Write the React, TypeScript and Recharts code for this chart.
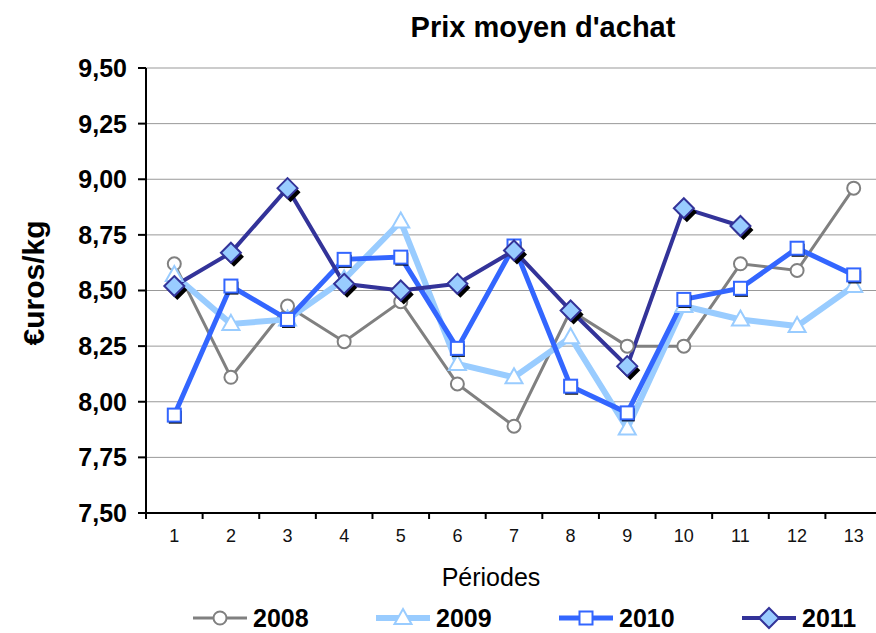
import { LineChart, Line, XAxis, YAxis, CartesianGrid, Legend } from 'recharts'

const periodes = ['1', '2', '3', '4', '5', '6', '7', '8', '9', '10', '11', '12', '13']
const prix2008 = [8.62, 8.11, 8.43, 8.27, 8.45, 8.08, 7.89, 8.41, 8.25, 8.25, 8.62, 8.59, 8.96]
const prix2009 = [8.57, 8.35, 8.37, 8.55, 8.81, 8.17, 8.11, 8.29, 7.88, 8.43, 8.37, 8.34, 8.52]
const prix2010 = [7.94, 8.52, 8.37, 8.64, 8.65, 8.24, 8.7, 8.07, 7.95, 8.46, 8.51, 8.69, 8.57]
const prix2011 = [8.52, 8.67, 8.96, 8.53, 8.5, 8.53, 8.68, 8.41, 8.16, 8.87, 8.79, null, null]
const yTicks = [7.5, 7.75, 8, 8.25, 8.5, 8.75, 9, 9.25, 9.5]

const data = periodes.map((p, i) => ({
  periode: p,
  a2008: prix2008[i],
  a2009: prix2009[i],
  a2010: prix2010[i],
  a2011: prix2011[i],
}))

const FONT = '"Liberation Sans", Arial, sans-serif'
const HALF_BAND = 28.3

const GRAY = '#808080'
const LIGHT = '#99ccff'
const BLUE = '#3366ff'
const NAVY = '#333399'

function circleMark(cx: number, cy: number) {
  return <circle cx={cx} cy={cy} r={6.5} fill="#fff" stroke={GRAY} strokeWidth={2} />
}
function triangleMark(cx: number, cy: number) {
  const p = `${cx},${cy - 9} ${cx + 8.5},${cy + 6} ${cx - 8.5},${cy + 6}`
  return <polygon points={p} fill="#fff" stroke={LIGHT} strokeWidth={2} />
}
function squareMark(cx: number, cy: number, shadow = true) {
  return (
    <g>
      {shadow && <rect x={cx - 5.5} y={cy - 4.5} width={13} height={13} fill="#000" />}
      <rect x={cx - 6.5} y={cy - 6.5} width={13} height={13} fill="#fff" stroke={BLUE} strokeWidth={2} />
    </g>
  )
}
function diamondMark(cx: number, cy: number, shadow = true) {
  const d = (x: number, y: number) => `${x},${y - 10} ${x + 10},${y} ${x},${y + 10} ${x - 10},${y}`
  return (
    <g>
      {shadow && <polygon points={d(cx + 3, cy + 4)} fill="#000" />}
      <polygon points={d(cx, cy)} fill={LIGHT} stroke={NAVY} strokeWidth={2} />
    </g>
  )
}

const series = [
  { key: 'a2008', name: '2008', color: GRAY, width: 3, mark: circleMark },
  { key: 'a2009', name: '2009', color: LIGHT, width: 6, mark: triangleMark },
  { key: 'a2010', name: '2010', color: BLUE, width: 5, mark: squareMark },
  { key: 'a2011', name: '2011', color: NAVY, width: 4, mark: diamondMark },
]

function makeDot(mark: (cx: number, cy: number) => any) {
  return (props: any) => {
    const { cx, cy, value, index } = props
    if (value == null || cx == null || cy == null) return <g key={index} />
    return <g key={index}>{mark(cx, cy)}</g>
  }
}

function XTick(props: any) {
  const { x, y, payload, index } = props
  const axisY = y - 10
  return (
    <g>
      <line x1={x - HALF_BAND} x2={x - HALF_BAND} y1={axisY} y2={axisY + 6} stroke="#000" strokeWidth={2} />
      {index === periodes.length - 1 && (
        <line x1={x + HALF_BAND} x2={x + HALF_BAND} y1={axisY} y2={axisY + 6} stroke="#000" strokeWidth={2} />
      )}
      <text x={x} y={y + 19} textAnchor="middle" fontSize={18} fill="#111" fontFamily={FONT}>
        {payload.value}
      </text>
    </g>
  )
}

function LegendBox() {
  return (
    <div
      style={{
        height: 30,
        width: 940,
        display: 'flex',
        alignItems: 'center',
        paddingLeft: 193,
        fontFamily: FONT,
        whiteSpace: 'nowrap',
      }}
    >
      {series.map((s) => (
        <div key={s.key} style={{ width: 183, flexShrink: 0, display: 'flex', alignItems: 'center' }}>
          <svg width={54} height={24} style={{ flexShrink: 0 }}>
            <line x1={0} x2={54} y1={12} y2={12} stroke={s.color} strokeWidth={s.width} />
            {s.key === 'a2010' ? squareMark(27, 12, false) : s.key === 'a2011' ? diamondMark(27, 12, false) : s.mark(27, 12)}
          </svg>
          <span style={{ marginLeft: 6, fontSize: 25, fontWeight: 'bold', color: '#000' }}>{s.name}</span>
        </div>
      ))}
    </div>
  )
}

export default function App() {
  return (
    <div
      style={{
        position: 'fixed',
        left: 0,
        top: 0,
        width: 876,
        height: 633,
        overflow: 'hidden',
        background: '#fff',
        fontFamily: FONT,
      }}
    >
      <div
        style={{
          position: 'absolute',
          left: 543,
          top: 13,
          transform: 'translateX(-50%)',
          whiteSpace: 'nowrap',
          fontSize: 29,
          fontWeight: 'bold',
          lineHeight: 1,
          color: '#000',
        }}
      >
        Prix moyen d'achat
      </div>
      <LineChart width={890} height={633} data={data} margin={{ top: 68, right: 8, left: 0, bottom: 0 }}>
        <CartesianGrid vertical={false} stroke="#999" strokeWidth={1} />
        <XAxis
          dataKey="periode"
          padding={{ left: HALF_BAND, right: HALF_BAND }}
          axisLine={{ stroke: '#000', strokeWidth: 2 }}
          tickLine={false}
          tickSize={6}
          tickMargin={4}
          tick={<XTick />}
          interval={0}
          height={90}
          label={{
            content: () => (
              <text x={491} y={586} textAnchor="middle" fontSize={25} fill="#000" fontFamily={FONT}>
                Périodes
              </text>
            ),
          }}
        />
        <YAxis
          domain={[7.5, 9.5]}
          ticks={yTicks}
          width={146}
          axisLine={{ stroke: '#000', strokeWidth: 2 }}
          tickLine={{ stroke: '#000', strokeWidth: 2 }}
          tickSize={8}
          tickMargin={11}
          tick={{ fontSize: 25, fontWeight: 'bold', fill: '#000', fontFamily: FONT }}
          tickFormatter={(v: number) => v.toFixed(2).replace('.', ',')}
          label={{
            content: () => (
              <text
                x={33}
                y={283}
                transform="rotate(-90 33 283)"
                textAnchor="middle"
                dominantBaseline="central"
                fontSize={30}
                fontWeight="bold"
                fill="#000"
                fontFamily={FONT}
              >
                €uros/kg
              </text>
            ),
          }}
        />
        <Legend verticalAlign="bottom" height={30} content={() => <LegendBox />} />
        {series.map((s) => (
          <Line
            key={s.key}
            type="linear"
            dataKey={s.key}
            name={s.name}
            stroke={s.color}
            strokeWidth={s.width}
            dot={makeDot(s.mark)}
            activeDot={false}
            isAnimationActive={false}
          />
        ))}
      </LineChart>
    </div>
  )
}
